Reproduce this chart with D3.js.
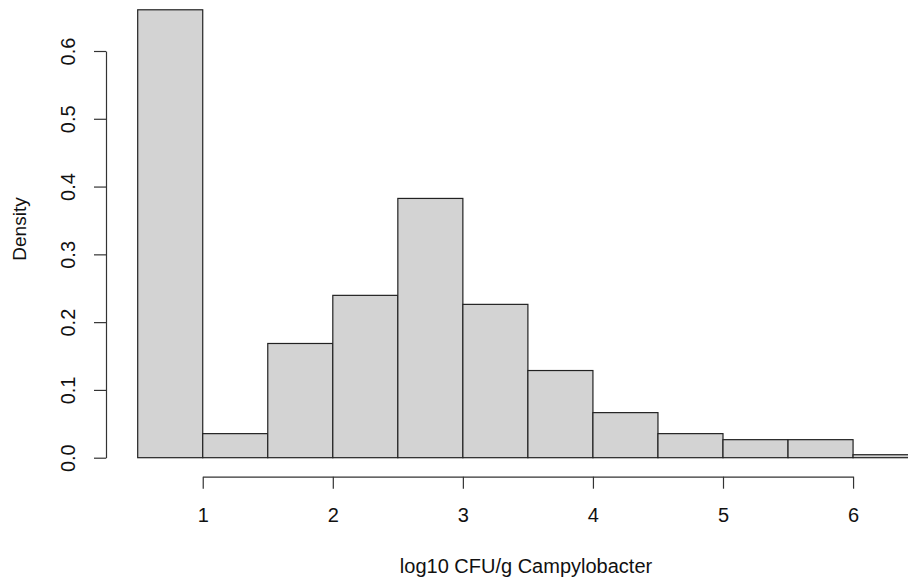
<!DOCTYPE html>
<html>
<head>
<meta charset="utf-8">
<script src="https://cdn.jsdelivr.net/npm/d3@7/dist/d3.min.js"></script>
<style>
  html, body { margin: 0; padding: 0; background: #fff; }
  svg { display: block; font-family: "Liberation Sans", Arial, sans-serif; }
</style>
</head>
<body>
<svg id="chart" width="908" height="583"></svg>
<script>
// Histogram bins (log10 CFU/g) and their densities
const binStarts = [0.5, 1.0, 1.5, 2.0, 2.5, 3.0, 3.5, 4.0, 4.5, 5.0, 5.5, 6.0];
const binWidth = 0.5;
const densities = [0.6608, 0.0355, 0.1685, 0.2395, 0.3825, 0.2262, 0.1286, 0.0665, 0.0355, 0.0266, 0.0266, 0.0044];
const xTicks = [1, 2, 3, 4, 5, 6];
const yTicks = [0.0, 0.1, 0.2, 0.3, 0.4, 0.5, 0.6];
const xTitle = "log10 CFU/g Campylobacter";
const yTitle = "Density";

const svg = d3.select("#chart");

const x = d3.scaleLinear().domain([0.5, 6.5]).range([137.7, 918.1]);
const y = d3.scaleLinear().domain([0, 0.6]).range([457.7, 51]);

const bins = binStarts.map((s, i) => ({ x0: s, x1: s + binWidth, d: densities[i] }));

// Bars
svg.append("g")
  .selectAll("rect")
  .data(bins)
  .join("rect")
  .attr("x", b => x(b.x0))
  .attr("y", b => y(b.d))
  .attr("width", b => x(b.x1) - x(b.x0))
  .attr("height", b => y(0) - y(b.d))
  .attr("fill", "#d3d3d3")
  .attr("stroke", "#222")
  .attr("stroke-width", 1.2);

// X axis (spans the tick range only)
const xAxisScale = d3.scaleLinear()
  .domain(d3.extent(xTicks))
  .range([x(xTicks[0]), x(xTicks[xTicks.length - 1])]);

const gx = svg.append("g")
  .attr("transform", "translate(0,476.7)")
  .call(d3.axisBottom(xAxisScale)
    .tickValues(xTicks)
    .tickFormat(d3.format("d"))
    .tickSize(12)
    .tickSizeOuter(0));

gx.select(".domain").attr("stroke", "#333").attr("stroke-width", 1.2);
gx.selectAll(".tick line").attr("stroke", "#333").attr("stroke-width", 1.2);
gx.selectAll(".tick text")
  .attr("y", 38.5)
  .attr("dy", null)
  .attr("dominant-baseline", "central")
  .attr("fill", "#111")
  .attr("font-size", 20)
  .attr("font-family", "Liberation Sans, Arial, sans-serif");

// Y axis
const yAxisScale = d3.scaleLinear()
  .domain(d3.extent(yTicks))
  .range([y(yTicks[0]), y(yTicks[yTicks.length - 1])]);

const gy = svg.append("g")
  .attr("transform", "translate(106,0)")
  .call(d3.axisLeft(yAxisScale)
    .tickValues(yTicks)
    .tickFormat(d3.format(".1f"))
    .tickSize(12)
    .tickSizeOuter(0));

gy.select(".domain").attr("stroke", "#333").attr("stroke-width", 1.2);
gy.selectAll(".tick line").attr("stroke", "#333").attr("stroke-width", 1.2);
gy.selectAll(".tick text")
  .attr("transform", "rotate(-90)")
  .attr("x", 0)
  .attr("y", -38)
  .attr("dy", null)
  .attr("text-anchor", "middle")
  .attr("dominant-baseline", "central")
  .attr("fill", "#111")
  .attr("font-size", 20)
  .attr("font-family", "Liberation Sans, Arial, sans-serif");

// Axis titles
svg.append("text")
  .attr("x", 526)
  .attr("y", 566)
  .attr("text-anchor", "middle")
  .attr("dominant-baseline", "central")
  .attr("font-size", 20)
  .attr("fill", "#111")
  .text(xTitle);

svg.append("text")
  .attr("transform", "translate(19,229) rotate(-90)")
  .attr("text-anchor", "middle")
  .attr("dominant-baseline", "central")
  .attr("font-size", 19)
  .attr("fill", "#111")
  .text(yTitle);
</script>
</body>
</html>
